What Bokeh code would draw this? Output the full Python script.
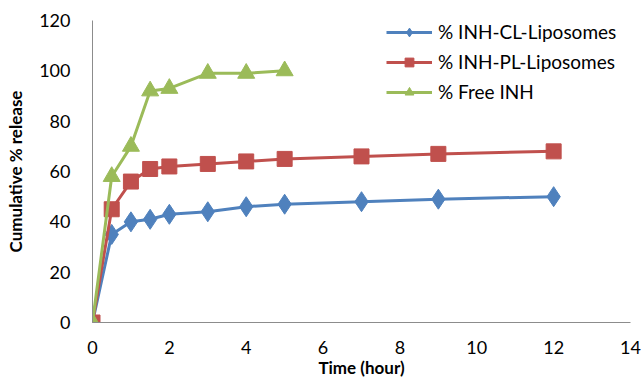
from bokeh.plotting import figure
from bokeh.models import Range1d, Legend, LegendItem, FixedTicker
from bokeh.embed import file_html
from bokeh.resources import INLINE

time_lipo = [0, 0.5, 1, 1.5, 2, 3, 4, 5, 7, 9, 12]
cl_release = [0, 35, 40, 41, 43, 44, 46, 47, 48, 49, 50]
pl_release = [0, 45, 56, 61, 62, 63, 64, 65, 66, 67, 68]
time_free = [0, 0.5, 1, 1.5, 2, 3, 4, 5]
free_release = [0, 58, 70, 92, 93, 99, 99, 100]

x_ticks = [0, 2, 4, 6, 8, 10, 12, 14]
y_ticks = [0, 20, 40, 60, 80, 100, 120]

FONT = "Lato"
p = figure(width=641, height=380, output_backend="svg", toolbar_location=None,
           x_range=Range1d(0, 14), y_range=Range1d(0, 120),
           min_border_left=92, min_border_right=11, min_border_top=20, min_border_bottom=58)
p.outline_line_color = None
p.xgrid.visible = False
p.ygrid.visible = False

for ax in (p.xaxis[0], p.yaxis[0]):
    ax.axis_line_color = "#8c8c8c"
    ax.axis_line_width = 1
    ax.major_tick_line_color = None
    ax.minor_tick_line_color = None
    ax.major_label_text_font = FONT
    ax.major_label_text_font_size = "18px"
    ax.major_label_text_color = "#000000"
    ax.axis_label_text_font = FONT
    ax.axis_label_text_font_style = "bold"
    ax.axis_label_text_font_size = "17px"
    ax.axis_label_text_color = "#000000"

p.xaxis.ticker = FixedTicker(ticks=x_ticks)
p.yaxis.ticker = FixedTicker(ticks=y_ticks)
p.xaxis.major_label_standoff = 12
p.yaxis.major_label_standoff = 16
p.xaxis.axis_label = "Time (hour)"
p.xaxis.axis_label_standoff = 0
p.yaxis.axis_label = "Cumulative % release"
p.yaxis.axis_label_standoff = 10

blue, red, green = "#4F81BD", "#C0504D", "#9BBB59"

l1 = p.line(time_lipo, cl_release, line_color=blue, line_width=3)
m1 = p.scatter(time_lipo, cl_release, marker="diamond", size=20, fill_color=blue, line_color=blue)
l2 = p.line(time_lipo, pl_release, line_color=red, line_width=3)
m2 = p.scatter(time_lipo, pl_release, marker="square", size=15, fill_color=red, line_color=red)
l3 = p.line(time_free, free_release, line_color=green, line_width=3)
m3 = p.scatter(time_free, free_release, marker="triangle", size=17, fill_color=green, line_color=green)

legend = Legend(items=[
    LegendItem(label="% INH-CL-Liposomes", renderers=[l1, m1]),
    LegendItem(label="% INH-PL-Liposomes", renderers=[l2, m2]),
    LegendItem(label="% Free INH", renderers=[l3, m3]),
], location="top_left")
legend.border_line_color = None
legend.background_fill_alpha = 0
legend.label_text_font = FONT
legend.label_text_font_size = "19px"
legend.label_text_color = "#000000"
legend.glyph_width = 46
legend.glyph_height = 22
legend.label_height = 22
legend.label_standoff = 6
legend.spacing = 7
legend.margin = 0
legend.padding = 0
p.add_layout(legend, "center")
legend.location = (294, 302 - 83)

open("out.html", "w").write(file_html(p, INLINE))
